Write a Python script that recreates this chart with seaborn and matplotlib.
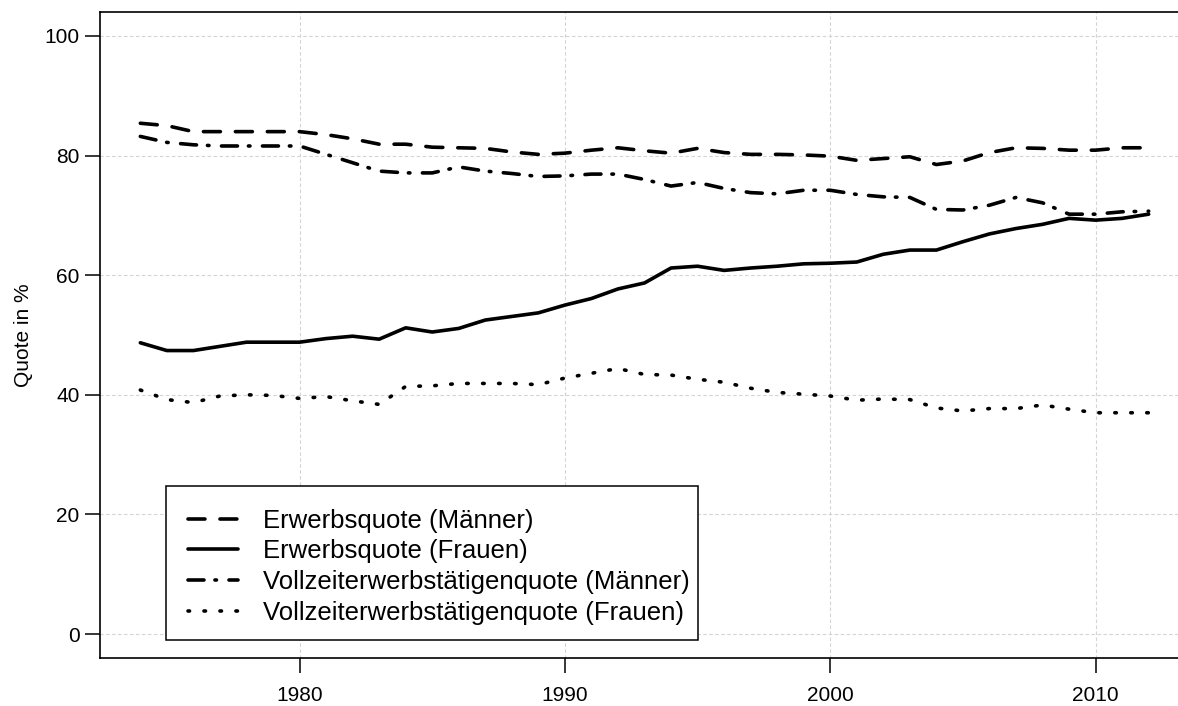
import matplotlib
matplotlib.use('Agg')
import matplotlib.pyplot as plt
from matplotlib.patches import Rectangle
import seaborn as sns

jahre = [1974, 1975, 1976, 1977, 1978, 1979, 1980, 1981, 1982, 1983,
         1984, 1985, 1986, 1987, 1988, 1989, 1990, 1991, 1992, 1993,
         1994, 1995, 1996, 1997, 1998, 1999, 2000, 2001, 2002, 2003,
         2004, 2005, 2006, 2007, 2008, 2009, 2010, 2011, 2012]

erwerb_maenner = [85.4, 85.0, 84.0, 84.0, 84.0, 84.0, 84.0, 83.5, 82.8, 81.9,
                  81.9, 81.4, 81.3, 81.2, 80.6, 80.2, 80.4, 80.9, 81.3, 80.8,
                  80.4, 81.2, 80.5, 80.2, 80.2, 80.1, 79.9, 79.2, 79.5, 79.8,
                  78.5, 79.1, 80.5, 81.3, 81.2, 80.9, 80.9, 81.3, 81.3]
erwerb_frauen = [48.7, 47.4, 47.4, 48.1, 48.8, 48.8, 48.8, 49.4, 49.8, 49.3,
                 51.2, 50.5, 51.1, 52.5, 53.1, 53.7, 55.0, 56.1, 57.7, 58.7,
                 61.2, 61.5, 60.8, 61.2, 61.5, 61.9, 62.0, 62.2, 63.5, 64.2,
                 64.2, 65.6, 66.9, 67.8, 68.5, 69.5, 69.2, 69.5, 70.2]
vollzeit_maenner = [83.2, 82.2, 81.8, 81.6, 81.6, 81.6, 81.6, 80.2, 78.8, 77.4,
                    77.1, 77.1, 78.1, 77.4, 77.0, 76.5, 76.6, 76.9, 76.9, 76.0,
                    74.9, 75.5, 74.5, 73.8, 73.6, 74.2, 74.2, 73.5, 73.1, 73.0,
                    71.0, 70.9, 71.7, 73.0, 72.1, 70.2, 70.2, 70.6, 70.7]
vollzeit_frauen = [40.8, 39.2, 38.7, 39.8, 40.0, 39.9, 39.4, 39.7, 39.0, 38.4,
                   41.4, 41.5, 41.9, 41.9, 41.9, 41.7, 42.8, 43.6, 44.4, 43.4,
                   43.3, 42.6, 42.1, 41.1, 40.4, 40.1, 39.8, 39.1, 39.3, 39.2,
                   37.8, 37.3, 37.7, 37.7, 38.3, 37.6, 37.0, 37.0, 37.0]

labels = ['Erwerbsquote (Männer)', 'Erwerbsquote (Frauen)',
          'Vollzeiterwerbstätigenquote (Männer)', 'Vollzeiterwerbstätigenquote (Frauen)']

sns.set_style('white')
plt.rcParams['font.family'] = ['Liberation Sans', 'DejaVu Sans']
plt.rcParams['text.color'] = 'black'
plt.rcParams['axes.labelcolor'] = 'black'
plt.rcParams['xtick.color'] = 'black'
plt.rcParams['ytick.color'] = 'black'
plt.rcParams['lines.scale_dashes'] = False
plt.rcParams['lines.dash_capstyle'] = 'round'
plt.rcParams['lines.solid_capstyle'] = 'round'
plt.rcParams['lines.solid_joinstyle'] = 'round'
plt.rcParams['lines.dash_joinstyle'] = 'round'

fig = plt.figure(figsize=(11.78, 7.06), dpi=100)
ax = fig.add_axes([100 / 1178, 48 / 706, 1089 / 1178, 646 / 706])

# Gitter zuerst, damit die Linien darueber liegen
ax.set_axisbelow(True)
ax.grid(True, color='#d4d4d4', linestyle=(0, (2.0, 2.3)), linewidth=0.8)

styles = [(0, (12.2, 10.8)), '-', (0, (11.5, 7.9, 1.1, 9.0)), (0, (1.1, 10.4))]
reihen = [erwerb_maenner, erwerb_frauen, vollzeit_maenner, vollzeit_frauen]
for werte, lab, ls in zip(reihen, labels, styles):
    sns.lineplot(x=jahre, y=werte, ax=ax, color='black', linewidth=2.6,
                 linestyle=ls, label=lab, legend=False)

ax.set_xlim(1972.48, 2013.52)
ax.set_ylim(-4, 104)
ax.set_xticks([1980, 1990, 2000, 2010])
ax.set_yticks([0, 20, 40, 60, 80, 100])
ax.tick_params(axis='both', direction='out', length=10.8, width=1.1,
               labelsize=15, color='black', labelcolor='black', left=True, bottom=True)
ax.tick_params(axis='x', pad=9.5)
ax.tick_params(axis='y', pad=4)
ax.set_xlabel('')
ax.set_ylabel('Quote in %', fontsize=15, labelpad=8, color='black')

for side in ['left', 'top', 'bottom']:
    ax.spines[side].set_color('black')
    ax.spines[side].set_linewidth(1.2)
ax.spines['right'].set_visible(False)

# Legende ohne eigenen Rahmen, Rahmen danach mit R-aehnlichem Abstand
handles, labs = ax.get_legend_handles_labels()
leg = ax.legend(handles, labs, loc='lower left', bbox_to_anchor=(0.0808, 0.0515),
                borderaxespad=0, fontsize=18.5, frameon=False,
                handlelength=1.95, handletextpad=0.95, labelspacing=0.26,
                borderpad=0)
for t in leg.get_texts():
    t.set_color('black')

fig.canvas.draw()
bb = leg.get_window_extent()
W, H = fig.bbox.width, fig.bbox.height
pad_l, pad_r, pad_t, pad_b = 22, 9, 23, 15
rect = Rectangle(((bb.x0 - pad_l) / W, (bb.y0 - pad_b) / H),
                 (bb.width + pad_l + pad_r) / W, (bb.height + pad_t + pad_b) / H,
                 transform=fig.transFigure, facecolor='white', edgecolor='black',
                 linewidth=1.1, zorder=4)
fig.add_artist(rect)
# Legende auf Figurenebene, damit sie ueber dem Rahmen liegt
leg.remove()
leg.set_zorder(5)
fig.add_artist(leg)

plt.savefig('out.png', dpi=100)
